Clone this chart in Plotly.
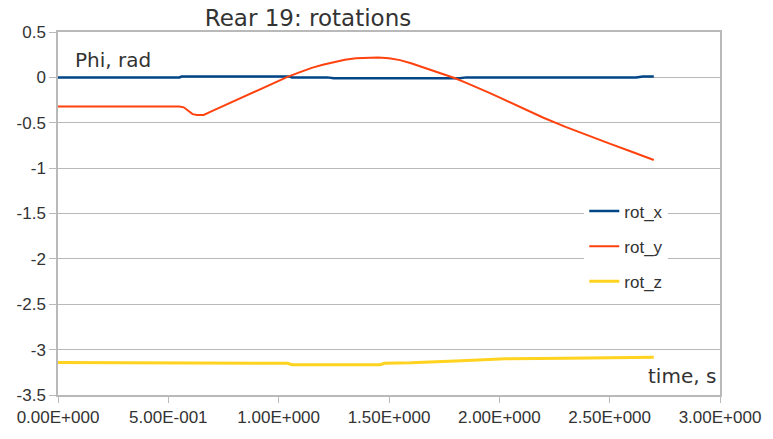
import plotly.graph_objects as go

# Time samples (s) and rotation angles (rad) for each component
t_x = [0.00, 0.55, 0.56, 1.05, 1.06, 1.22, 1.25, 1.82, 1.85, 2.62, 2.65, 2.70]
rot_x = [0.0, 0.0, 0.01, 0.01, 0.0, 0.0, -0.01, -0.01, 0.0, 0.0, 0.01, 0.01]

t_y = [0.00, 0.55, 0.57, 0.59, 0.61, 0.63, 0.66, 0.70, 0.80, 0.90, 1.00, 1.04,
       1.10, 1.15, 1.20, 1.25, 1.30, 1.35, 1.40, 1.45, 1.50, 1.55, 1.60, 1.65,
       1.70, 1.75, 1.80, 1.85, 1.90, 1.95, 2.00, 2.10, 2.20, 2.30, 2.40, 2.50,
       2.60, 2.70]
rot_y = [-0.32, -0.32, -0.33, -0.37, -0.405, -0.415, -0.414, -0.37, -0.26, -0.15, -0.035, 0.005,
         0.06, 0.105, 0.14, 0.17, 0.195, 0.212, 0.22, 0.22, 0.21, 0.19, 0.155, 0.115,
         0.075, 0.035, -0.01, -0.06, -0.11, -0.165, -0.22, -0.33, -0.445, -0.545, -0.64, -0.73,
         -0.82, -0.91]

t_z = [0.00, 0.90, 0.92, 1.04, 1.06, 1.46, 1.48, 1.60, 1.80, 2.00, 2.03, 2.30, 2.55, 2.58, 2.70]
rot_z = [-3.142, -3.142, -3.15, -3.15, -3.167, -3.167, -3.15, -3.145, -3.125, -3.107, -3.10,
         -3.095, -3.09, -3.085, -3.083]

x_tick_vals = [0.0, 0.5, 1.0, 1.5, 2.0, 2.5, 3.0]
x_tick_text = ["0.00E+000", "5.00E-001", "1.00E+000", "1.50E+000",
               "2.00E+000", "2.50E+000", "3.00E+000"]
y_tick_vals = [0.5, 0, -0.5, -1, -1.5, -2, -2.5, -3, -3.5]
y_tick_text = ["0.5", "0", "-0.5", "-1", "-1.5", "-2", "-2.5", "-3", "-3.5"]

GRID = "#b9b9b9"
TICK_FONT = dict(family="Liberation Sans, Arial, sans-serif", size=17, color="#333333")
LABEL_FONT = dict(family="DejaVu Sans, sans-serif", size=20, color="#333333")

fig = go.Figure()
fig.add_trace(go.Scatter(x=t_x, y=rot_x, mode="lines", name="rot_x", legendgroup="a",
                         line=dict(color="#004586", width=2.5)))
fig.add_trace(go.Scatter(x=t_y, y=rot_y, mode="lines", name="rot_y", legendgroup="b",
                         line=dict(color="#ff420e", width=2)))
fig.add_trace(go.Scatter(x=t_z, y=rot_z, mode="lines", name="rot_z", legendgroup="c",
                         line=dict(color="#ffd320", width=3)))

fig.update_layout(
    width=773, height=439,
    margin=dict(l=58, r=49, t=32, b=44),
    paper_bgcolor="white", plot_bgcolor="white",
    title=dict(text="Rear 19: rotations", xref="container", x=308 / 773, xanchor="center",
               y=1 - 18 / 439, yanchor="middle",
               font=dict(family="DejaVu Sans, sans-serif", size=23, color="#333333")),
    showlegend=True,
    legend=dict(x=0.795, xanchor="left", y=0.555, yanchor="top", bgcolor="white",
                font=TICK_FONT, tracegroupgap=10, traceorder="grouped"),
    xaxis=dict(range=[0, 3.0], tickvals=x_tick_vals, ticktext=x_tick_text,
               showgrid=False, zeroline=False, showline=True, linecolor=GRID,
               linewidth=1.5, mirror=True, ticks="outside", ticklen=6, tickcolor=GRID,
               tickfont=TICK_FONT),
    yaxis=dict(range=[-3.5, 0.5], tickvals=y_tick_vals, ticktext=y_tick_text,
               showgrid=True, gridcolor=GRID, gridwidth=1, zeroline=False,
               showline=True, linecolor=GRID, linewidth=1.5, mirror=True,
               ticks="outside", ticklen=7, tickcolor=GRID, tickfont=TICK_FONT),
    annotations=[
        dict(text="Phi, rad", xref="paper", yref="paper", x=(73 - 58) / 666,
             y=(395 - 60) / 363, xanchor="left", yanchor="middle", showarrow=False,
             font=LABEL_FONT),
        dict(text="time, s", xref="paper", yref="paper", x=(722 - 58) / 666,
             y=(395 - 376) / 363, xanchor="right", yanchor="middle", showarrow=False,
             font=LABEL_FONT),
    ],
)

fig.write_html("out.html")
